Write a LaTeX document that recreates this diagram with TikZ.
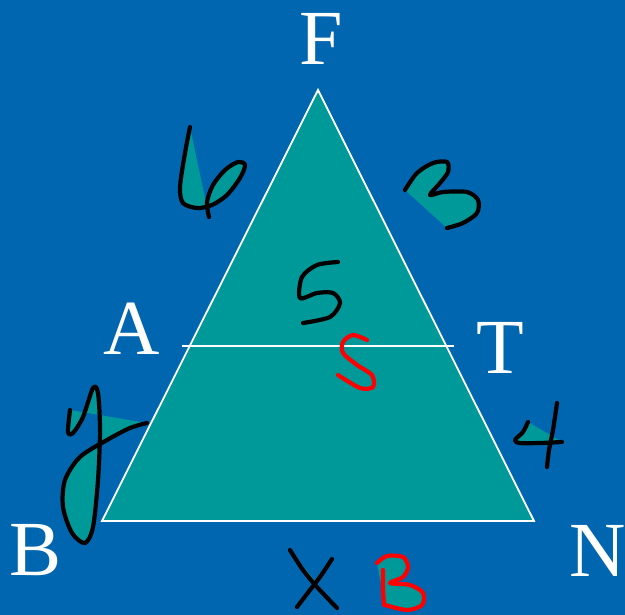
\documentclass[tikz,border=0pt]{standalone}
\usepackage{fontspec}
\setmainfont{Liberation Serif}
\usepackage{tikz}
\usetikzlibrary{positioning}
\usepackage{xcolor}
\definecolor{slideblue}{RGB}{0,102,176}
\definecolor{triteal}{RGB}{0,153,153}
\definecolor{inkred}{RGB}{255,0,0}
\tikzset{
  vtxlabel/.style={text=white,inner sep=0pt,font=\fontsize{78}{78}\selectfont},
  triedge/.style={draw=white,line width=1.8pt,fill=triteal,line join=miter},
  midline/.style={draw=white,line width=1.6pt},
  scrawl/.style={draw=black,line width=4.2pt,line cap=round,line join=round},
  scrawlfill/.style={scrawl,fill=triteal},
  scrawlred/.style={scrawl,draw=inkred}
}

\begin{document}
\begin{tikzpicture}[x=1pt,y=-1pt]
  \useasboundingbox (0,0) rectangle (625,615);
  \fill[slideblue] (0,0) rectangle (625,615);
  \coordinate (f) at (318,90);
  \coordinate (b) at (102,521);
  \coordinate (n) at (534,521);
  \coordinate (a) at (182,346);
  \coordinate (t) at (454,346);
  \draw[triedge] (f) -- (b) -- (n) -- cycle;
  \draw[midline] (a) -- (t);
  \node[vtxlabel] (lblF) at (321,39) {F};
  \node[vtxlabel] (lblA) at (132,329) {A};
  \node[vtxlabel] (lblT) at (500,348) {T};
  \node[vtxlabel] (lblB) at (36,550) {B};
  \node[vtxlabel] (lblN) at (598,551) {N};
  % handwritten side lengths
  \draw[scrawlfill] plot[smooth] coordinates {(190,127) (185,153) (180,187) (183,203) (197,208)
    (212,205) (227,195) (240,178) (245,165) (238,162) (225,170) (213,185) (207,202) (209,217)};
  \draw[scrawlfill] plot[smooth] coordinates {(405,190) (417,173) (433,163) (447,162) (448,172)
    (440,183) (430,195) (443,192) (467,192) (478,200) (477,213) (463,223) (447,228)};
  \draw[scrawl] plot[smooth] coordinates {(338,262) (317,265) (302,277) (300,298) (317,293)
    (333,293) (340,303) (330,317) (303,323)};
  \draw[scrawlred] plot[smooth] coordinates {(367,340) (353,335) (343,342) (343,353) (357,365)
    (372,375) (373,387) (360,388) (338,375)};
  \draw[scrawlfill] plot[smooth] coordinates {(70,410) (68,432) (73,433) (83,417) (93,388)
    (98,393) (100,430) (98,480) (93,527) (85,543) (72,533) (63,507) (65,480) (80,457)
    (107,440) (130,428) (147,423)};
  \draw[scrawlfill] plot[smooth] coordinates {(528,422) (523,432) (515,440) (520,443) (540,443) (562,442)};
  \draw[scrawl] plot[smooth] coordinates {(557,403) (553,430) (549,450) (547,467)};
  % base
  \draw[scrawlfill] plot[smooth] coordinates {(290,550) (303,570) (317,587) (337,608)};
  \draw[scrawl] plot[smooth] coordinates {(332,559) (320,577) (310,590) (297,607)};
  \draw[scrawlred,fill=triteal] plot[smooth] coordinates {(377,563) (387,556) (403,557) (408,567)
    (403,577) (390,583) (410,585) (423,593) (422,605) (407,610) (385,605)};
  \draw[scrawlred] plot[smooth] coordinates {(383,570) (383,588) (384,605)};
\end{tikzpicture}
\end{document}
